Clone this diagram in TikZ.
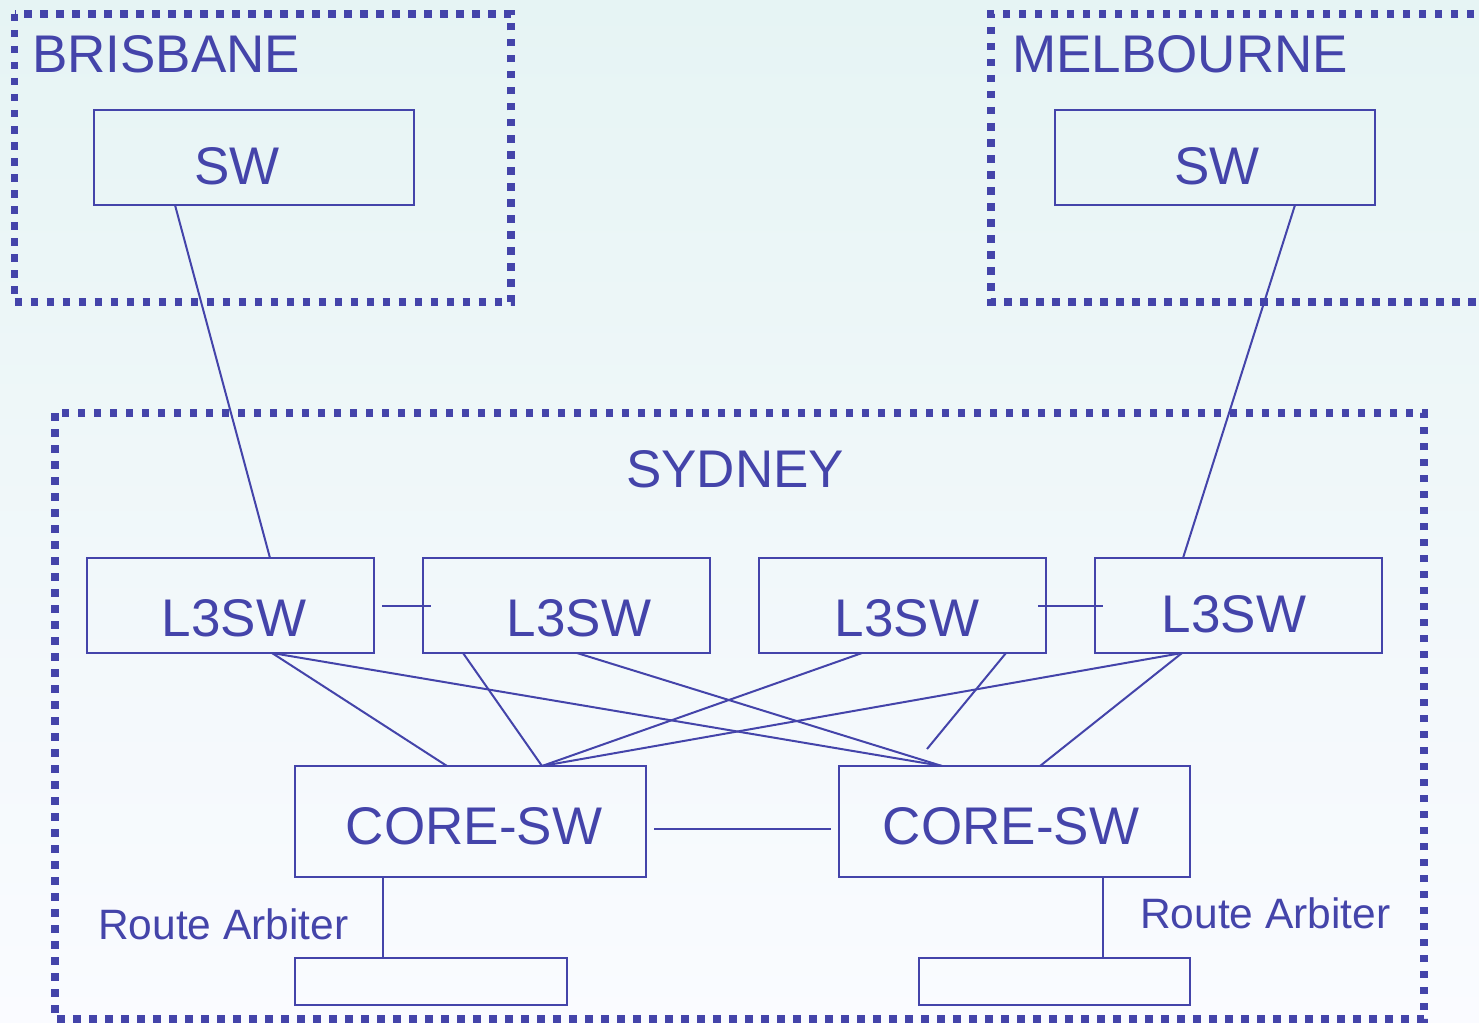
\documentclass[tikz,border=0pt]{standalone}
\usepackage{fontspec}
\setmainfont{Liberation Sans}
\usetikzlibrary{calc}
\definecolor{ink}{RGB}{68,68,170}
\definecolor{bgtop}{RGB}{230,244,244}
\definecolor{bgbot}{RGB}{250,251,255}
\begin{document}
\begin{tikzpicture}[x=1pt,y=-1pt,
  box/.style={draw=ink, line width=2.5pt, inner sep=0pt, outer sep=0pt},
  lbl/.style={text=ink, font=\fontsize{53}{60}\selectfont, inner sep=0pt, anchor=base},
  lblw/.style={text=ink, font=\fontsize{53}{60}\selectfont, inner sep=0pt, anchor=base west},
  small/.style={text=ink, font=\fontsize{42.5}{48}\selectfont, inner sep=0pt, anchor=base west},
  link/.style={draw=ink, line width=2pt},
  region/.style={draw=ink, line width=7.5pt, dash pattern=on 7.5pt off 8.5pt}]
\useasboundingbox (0,0) rectangle (1479,1022);
\clip (0,0) rectangle (1479,1022);
\shade[top color=bgtop, bottom color=bgbot] (0,0) rectangle (1479,1022);

% regions
\draw[region] (14.5,14) rectangle (511,302);
\draw[region] (1490,14) -- (991,14) -- (991,302) -- (1490,302);
\draw[region] (55,413) rectangle (1424,1019);

\node[lblw] (tbris) at (32,73) {BRISBANE};
\node[lblw] (tmelb) at (1012,73) {MELBOURNE};
\node[lbl] (tsyd) at (735,487) {SYDNEY};

% boxes
\node[box, minimum width=320pt, minimum height=95pt] (bsw) at (254,157.5) {};
\node[box, minimum width=320pt, minimum height=95pt] (msw) at (1215,157.5) {};
\node[box, minimum width=287pt, minimum height=95pt] (l1) at (230.5,605.5) {};
\node[box, minimum width=287pt, minimum height=95pt] (l2) at (566.5,605.5) {};
\node[box, minimum width=287pt, minimum height=95pt] (l3) at (902.5,605.5) {};
\node[box, minimum width=287pt, minimum height=95pt] (l4) at (1238.5,605.5) {};
\node[box, minimum width=351pt, minimum height=111pt] (c1) at (470.5,821.5) {};
\node[box, minimum width=351pt, minimum height=111pt] (c2) at (1014.5,821.5) {};
\node[box, minimum width=272pt, minimum height=47pt] (ra1) at (431,981.5) {};
\node[box, minimum width=271pt, minimum height=47pt] (ra2) at (1054.5,981.5) {};

% box texts
\node[lbl] (tbsw) at (237,184) {SW};
\node[lbl] (tmsw) at (1217,184) {SW};
\node[lbl] (tl1) at (234,636) {L3SW};
\node[lbl] (tl2) at (579,636) {L3SW};
\node[lbl] (tl3) at (907,636) {L3SW};
\node[lbl] (tl4) at (1234,632) {L3SW};
\node[lbl] (tc1) at (474,844) {CORE-SW};
\node[lbl] (tc2) at (1011,844) {CORE-SW};
\node[small] (tra1) at (98,939) {Route Arbiter};
\node[small] (tra2) at (1140,928) {Route Arbiter};

% connectors
\draw[link] ($(bsw.south west)+(81,0)$) -- ($(l1.north west)+(183,0)$);
\draw[link] ($(msw.south west)+(240,0)$) -- ($(l4.north west)+(88,0)$);
\draw[link] ($(l1.east)+(8,0)$) -- ($(l2.west)+(8,0)$);
\draw[link] ($(l3.east)+(-8,0)$) -- ($(l4.west)+(8,0)$);
\draw[link] ($(l1.south west)+(185,0)$) -- ($(c1.north west)+(152,0)$);
\draw[link] ($(l1.south west)+(185,0)$) -- ($(c2.north west)+(103,0)$);
\draw[link] ($(l2.south west)+(40,0)$) -- ($(c1.north west)+(247,0)$);
\draw[link] ($(l2.south west)+(154,0)$) -- ($(c2.north west)+(103,0)$);
\draw[link] ($(l3.south west)+(103,0)$) -- ($(c1.north west)+(247,0)$);
\coordinate (stub) at (927,749);
\draw[link] ($(l3.south west)+(247,0)$) -- (stub);
\draw[link] ($(l4.south west)+(87,0)$) -- ($(c1.north west)+(247,0)$);
\draw[link] ($(l4.south west)+(87,0)$) -- ($(c2.north west)+(201,0)$);
\draw[link] ($(c1.east)+(8,7.5)$) -- ($(c2.west)+(-8,7.5)$);
\draw[link] ($(c1.south west)+(88,0)$) -- ($(ra1.north west)+(88,0)$);
\draw[link] ($(c2.south west)+(264,0)$) -- ($(ra2.north west)+(184,0)$);
\end{tikzpicture}
\end{document}
